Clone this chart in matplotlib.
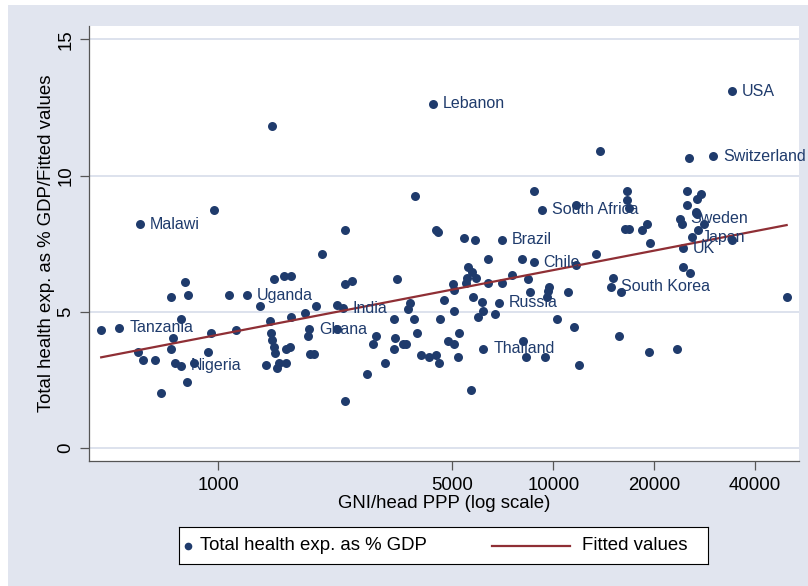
import numpy as np
import matplotlib
matplotlib.use("Agg")
import matplotlib.pyplot as plt
from matplotlib.patches import Rectangle

plt.rcParams['font.family'] = ['Liberation Sans', 'DejaVu Sans']

NAVY = '#1f3b6c'
MAROON = '#8f2f35'
BG = '#e1e5ef'
GRID = '#dde2ed'

# labelled countries
countries = ['Malawi', 'Lebanon', 'USA', 'Switzerland', 'South Africa', 'Sweden',
             'Japan', 'UK', 'South Korea', 'Brazil', 'Chile', 'Russia', 'Thailand',
             'Uganda', 'India', 'Tanzania', 'Ghana', 'Nigeria']
country_gni = [585, 4380, 34150, 30000, 9260, 23900,
               25900, 24400, 14900, 7050, 8760, 6900, 6190,
               1220, 2360, 508, 1870, 777]
country_health = [8.22, 12.63, 13.10, 10.72, 8.74, 8.42,
                  7.74, 7.33, 5.93, 7.64, 6.83, 5.34, 3.64,
                  5.62, 5.13, 4.42, 4.36, 3.03]

# the rest (GNI/head PPP, health exp. % GDP)
other_gni = [973, 1449, 3870, 2390, 4470, 4530, 13790, 25400, 8760, 16600,
             16650, 16800, 11700, 25100, 27500, 26800, 25100, 26600, 26900, 24300,
             28200, 27100, 19100, 18400, 16400, 16800, 34200, 19400, 13400, 11700,
             24400, 25600, 15100, 15900, 11100, 49700, 5420, 5840, 6380, 8050,
             5580, 5740, 5890, 5520, 7520, 8430, 5010, 5060, 5490, 6390,
             7040, 8530, 9700, 9660, 9580, 4710, 5760, 6150, 5060, 6190,
             5970, 6710, 4580, 10260, 11550, 5250, 4840, 5060, 8130, 15700,
             5180, 8270, 9420, 11900, 19300, 23400, 4550, 5670, 2040, 796,
             1470, 1570, 1650, 2390, 2510, 3430, 724, 812, 1075, 1330,
             1960, 2260, 1650, 1820, 1430, 448, 777, 955, 1130, 736,
             726, 1440, 1445, 1470, 1480, 1860, 2260, 577, 936, 596,
             649, 744, 850, 1595, 1640, 1880, 1930, 1390, 1500, 1520,
             1600, 807, 676, 2385, 2780, 3150, 2890, 2960, 3350, 3380,
             3560, 3630, 3350, 3830, 3920, 3680, 3750, 4040, 4260, 4460]
other_health = [8.74, 11.82, 9.25, 8.01, 8.01, 7.93, 10.90, 10.65, 9.44, 9.44,
                9.12, 8.81, 8.94, 9.44, 9.33, 9.14, 8.93, 8.65, 8.59, 8.23,
                8.23, 8.02, 8.24, 8.02, 8.04, 8.04, 7.64, 7.52, 7.13, 6.72,
                6.64, 6.42, 6.23, 5.72, 5.73, 5.54, 7.73, 7.63, 6.93, 6.93,
                6.64, 6.46, 6.23, 6.23, 6.34, 6.22, 6.04, 5.80, 6.05, 6.05,
                6.05, 5.74, 5.93, 5.76, 5.53, 5.44, 5.54, 5.36, 5.03, 5.05,
                4.83, 4.92, 4.73, 4.73, 4.43, 4.22, 3.95, 3.82, 3.95, 4.13,
                3.35, 3.34, 3.34, 3.04, 3.52, 3.64, 3.14, 2.13, 7.13, 6.11,
                6.22, 6.32, 6.32, 6.03, 6.12, 6.22, 5.54, 5.62, 5.62, 5.23,
                5.23, 5.25, 4.83, 4.95, 4.67, 4.34, 4.73, 4.24, 4.34, 4.03,
                3.64, 4.24, 3.97, 3.73, 3.51, 4.12, 4.36, 3.54, 3.53, 3.24,
                3.24, 3.14, 3.14, 3.64, 3.73, 3.44, 3.44, 3.04, 2.93, 3.13,
                3.12, 2.42, 2.04, 1.73, 2.72, 3.12, 3.82, 4.13, 4.73, 4.03,
                3.82, 3.82, 3.63, 4.73, 4.22, 5.12, 5.32, 3.43, 3.34, 3.43]

gni = np.array(country_gni + other_gni, dtype=float)
health = np.array(country_health + other_health)

# linear fit of health on log GNI
slope, icept = np.polyfit(np.log10(gni), health, 1)
fit_x = np.array([gni.min(), gni.max()])
fit_y = icept + slope * np.log10(fit_x)

W, H = 808, 586
fig = plt.figure(figsize=(W / 100, H / 100), dpi=100, facecolor='white')
bg = Rectangle((8 / W, 0), 1, 1 - 5 / H, transform=fig.transFigure,
               facecolor=BG, edgecolor='none', zorder=-10)
fig.add_artist(bg)

ax = fig.add_axes([89 / W, 1 - 461 / H, 710 / W, 435 / H])
ax.set_facecolor('white')
ax.set_xscale('log')
ax.set_xlim(412, 54100)
ax.set_ylim(-0.47, 15.49)

ax.scatter(gni, health, s=42, color=NAVY, linewidths=0, zorder=3, clip_on=False)
ax.plot(fit_x, fit_y, color=MAROON, lw=1.6, zorder=4)

for name, x, y in zip(countries, country_gni, country_health):
    ax.annotate(name, (x, y), xytext=(7, 0), textcoords='offset points',
                va='center', ha='left', fontsize=11.5, color=NAVY,
                zorder=5, annotation_clip=False)

ax.set_xticks([1000, 5000, 10000, 20000, 40000])
ax.set_xticklabels(['1000', '5000', '10000', '20000', '40000'])
ax.minorticks_off()
ax.set_yticks([0, 5, 10, 15])
ax.set_yticklabels(['0', '5', '10', '15'])
ax.tick_params(axis='both', direction='out', length=6.5, width=0.9,
               color='#555555', labelsize=13.4)
ax.tick_params(axis='x', pad=5)
ax.tick_params(axis='y', pad=4, labelrotation=90)
for lab in ax.get_yticklabels():
    lab.set_va('center')

ax.grid(axis='y', color=GRID, lw=1.4, zorder=0)
ax.set_axisbelow(True)
for side in ['top', 'right']:
    ax.spines[side].set_visible(False)
for side in ['left', 'bottom']:
    ax.spines[side].set_color('#555555')
    ax.spines[side].set_linewidth(0.9)

ax.set_xlabel('GNI/head PPP (log scale)', fontsize=13.4, labelpad=1)
ax.set_ylabel('Total health exp. as % GDP/Fitted values', fontsize=13.4, labelpad=2)

# legend box
lax = fig.add_axes([179 / W, 1 - 564 / H, 529 / W, 37 / H])
lax.set_facecolor('white')
lax.set_xlim(0, 529)
lax.set_ylim(0, 37)
lax.set_xticks([])
lax.set_yticks([])
for s in lax.spines.values():
    s.set_color('black')
    s.set_linewidth(0.8)
lax.plot([9], [18.5], 'o', color=NAVY, ms=5.5, mew=0)
lax.text(21, 18.5, 'Total health exp. as % GDP', fontsize=13.4, va='center', ha='left')
lax.plot([313, 391], [18.5, 18.5], color=MAROON, lw=1.6)
lax.text(403, 18.5, 'Fitted values', fontsize=13.4, va='center', ha='left')

fig.savefig('out.png', dpi=100, facecolor='white')
